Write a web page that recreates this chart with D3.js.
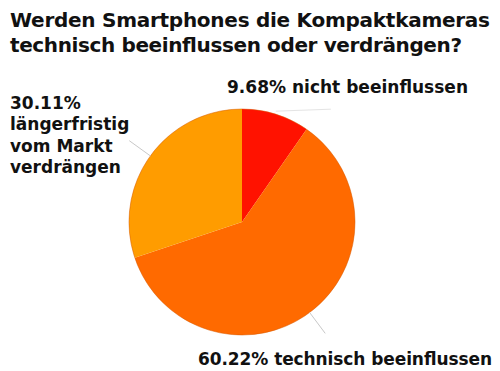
<!DOCTYPE html>
<html>
<head>
<meta charset="utf-8">
<script src="https://cdn.jsdelivr.net/npm/d3@7"></script>
<style>
  body { margin: 0; background: #fff; }
  text { font-family: Verdana, "DejaVu Sans", sans-serif; font-weight: bold; fill: #111; }
</style>
</head>
<body>
<div id="chart"></div>
<script>
const categories = ['nicht beeinflussen', 'technisch beeinflussen', 'längerfristig vom Markt verdrängen'];
const values = [9.68, 60.22, 30.11];
const colors = ['#ff1200', '#ff6a00', '#ff9c00'];

const width = 500;
const height = 371;
const cx = 242, cy = 222, radius = 113;

const svg = d3.select('#chart')
  .append('svg')
  .attr('width', width)
  .attr('height', height);

// title
const title = svg.append('text')
  .attr('x', 10)
  .attr('y', 27)
  .style('font-size', '20px');
title.append('tspan').attr('x', 10).attr('textLength', 480).attr('lengthAdjust', 'spacing')
  .text('Werden Smartphones die Kompaktkameras');
title.append('tspan').attr('x', 10).attr('dy', 25).attr('textLength', 452).attr('lengthAdjust', 'spacing')
  .text('technisch beeinflussen oder verdrängen?');

const g = svg.append('g')
  .attr('transform', `translate(${cx}, ${cy})`);

const pie = d3.pie().sort(null).value(d => d);
const arcs = pie(values);

const arc = d3.arc().innerRadius(0).outerRadius(radius);
const edge = d3.arc().innerRadius(radius).outerRadius(radius);
const outer = d3.arc().innerRadius(radius + 26).outerRadius(radius + 26);

g.selectAll('path.slice')
  .data(arcs)
  .enter()
  .append('path')
  .attr('class', 'slice')
  .attr('d', arc)
  .attr('fill', (d, i) => colors[i]);

// thin darker rim
g.append('circle')
  .attr('r', radius)
  .attr('fill', 'none')
  .attr('stroke', '#d85a00')
  .attr('stroke-width', 1)
  .attr('stroke-opacity', 0.5);

// leader lines
g.selectAll('line.leader')
  .data(arcs)
  .enter()
  .append('line')
  .attr('class', 'leader')
  .attr('x1', d => edge.centroid(d)[0])
  .attr('y1', (d, i) => edge.centroid(d)[1] - (i === 0 ? 3 : 0))
  .attr('x2', (d, i) => i === 0 ? edge.centroid(d)[0] + 55 : outer.centroid(d)[0])
  .attr('y2', (d, i) => i === 0 ? edge.centroid(d)[1] - 5 : outer.centroid(d)[1])
  .attr('stroke', (d, i) => i === 0 ? '#e4e4e4' : '#c8c8c8')
  .attr('stroke-width', 1);

// labels
const fmt = v => v.toFixed(2) + '%';

svg.append('text')
  .attr('x', 227).attr('y', 93)
  .style('font-size', '17px')
  .attr('textLength', 241).attr('lengthAdjust', 'spacing')
  .text(fmt(values[0]) + ' ' + categories[0]);

svg.append('text')
  .attr('x', 198).attr('y', 365)
  .style('font-size', '17px')
  .attr('textLength', 294).attr('lengthAdjust', 'spacing')
  .text(fmt(values[1]) + ' ' + categories[1]);

const left = svg.append('text')
  .attr('x', 10).attr('y', 109)
  .style('font-size', '17px');
[fmt(values[2]), 'längerfristig', 'vom Markt', 'verdrängen'].forEach((t, i) => {
  left.append('tspan').attr('x', 10).attr('dy', i === 0 ? 0 : 21.4).text(t);
});
</script>
</body>
</html>
